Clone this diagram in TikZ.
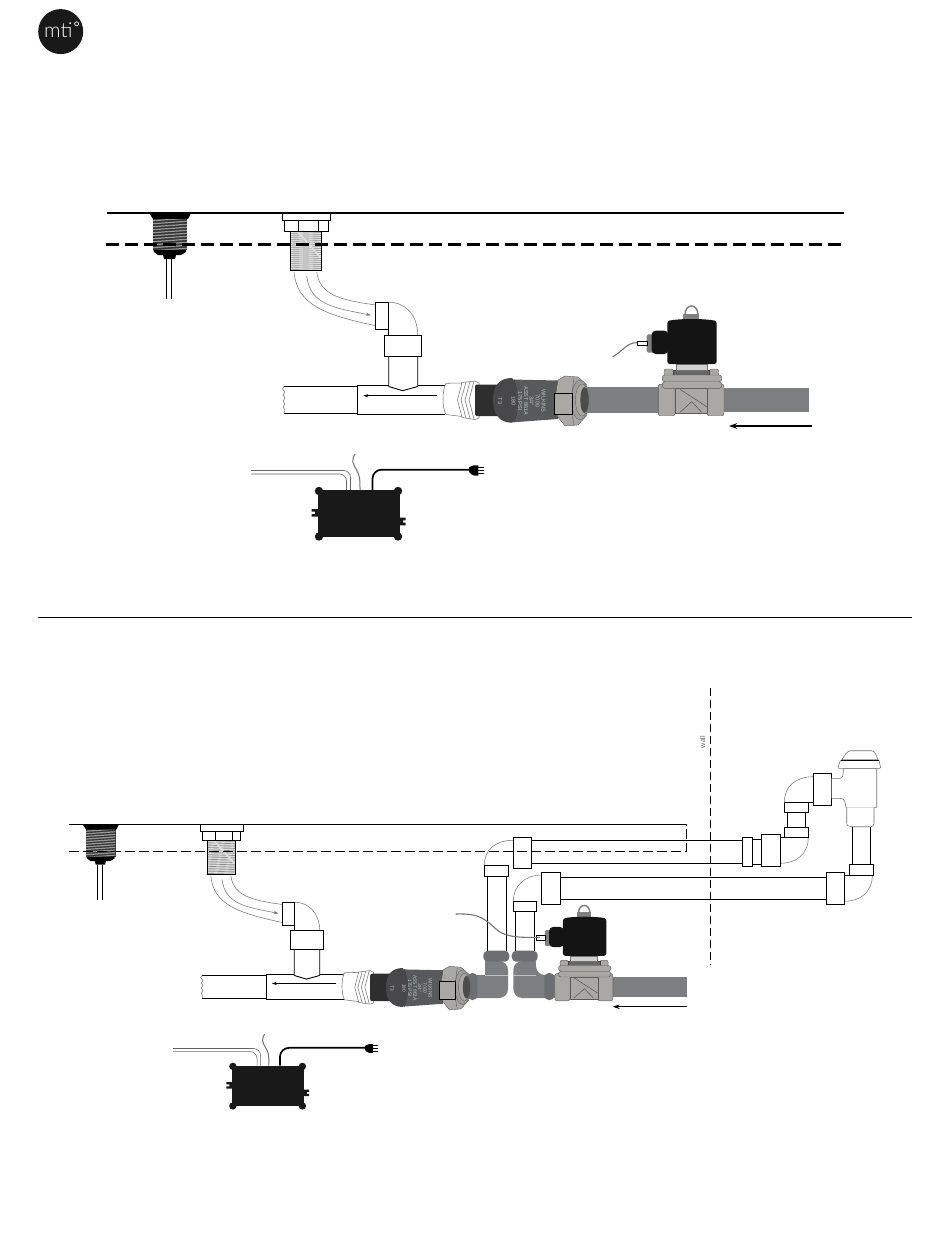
\documentclass[tikz,border=0pt]{standalone}
\usepackage{fontspec}
\setmainfont{Liberation Sans}
\newfontfamily\logofont{Lato Light}
\usetikzlibrary{arrows.meta}
\definecolor{pipegray}{HTML}{7D7E80}
\definecolor{cplgray}{HTML}{6D6E71}
\definecolor{brass}{HTML}{A9A8A4}
\definecolor{thingray}{HTML}{777777}
\definecolor{valvedark}{HTML}{58595B}
\definecolor{capdark}{HTML}{48484A}
\tikzset{
  pipeline/.style={draw=black,line width=.9pt,fill=white},
  plain/.style={draw=black,line width=.9pt},
  thin gray/.style={draw=thingray,line width=.55pt},
  valvetext/.style={font=\fontsize{5.6}{5.6}\selectfont,text=black!25,rotate=-90,transform shape,inner sep=0pt},
  flowhead/.style={-{Stealth[length=5pt,width=3.2pt]}},
}
\newcommand{\LeftFitting}{%
  \fill[black!80] (152.7,218) rectangle (187.3,250);
  \foreach \y in {219.5,222.5,...,250}{
    \draw[black!40,line width=1.2pt] (153,\y+1.2) -- (187,\y-1.2);
  }
  \fill[black] (149,213) -- (191,213) -- (188,219) -- (153,219) -- cycle;
  \fill[black] (154,250) -- (186,250) -- (186,252) -- (181,255) -- (176,255) -- (175,259) -- (164,259) -- (163,255) -- (158,255) -- (154,252) -- cycle;
  \draw[plain] (166.3,259) -- (166.3,299.3) (171.7,259) -- (171.7,299.3);
}
\newcommand{\RightFitting}{%
  \draw[pipeline] (282.3,213) rectangle (330.7,220.7);
  \draw[pipeline] (284.3,220.7) rectangle (328,231.7);
  \draw[plain] (298.7,220.7) -- (298.7,231.7) (318.3,220.7) -- (318.3,231.7);
  \fill[black!10] (290.3,231.7) rectangle (321.7,270.7);
  \foreach \y in {233,235,...,270}{
    \draw[black!45,line width=.65pt] (290.5,\y+.4) -- (321.5,\y-.4);
  }
  \draw[black!12,line width=1.6pt] (298,232) -- (321,258);
  \draw[plain] (290.3,231.7) rectangle (321.7,270.7);
}
\newcommand{\TeePiping}{%
  \draw[thin gray] (294,272) .. controls (297,305) and (325,315) .. (375.7,325.7);
  \draw[thin gray,flowhead] (306.7,276) .. controls (310,305) and (335,308) .. (371,315.2);
  \draw[thin gray] (316.7,272) .. controls (320,295) and (340,300) .. (375.7,305);
  \draw[thin gray] (388.7,302.3) .. controls (405,302) and (417.7,315) .. (417.7,335);
  \draw[plain] (388.7,329.3) -- (388.7,335);
  \draw[pipeline] (375.7,302.3) rectangle (388.7,329.3);
  \draw[plain] (388.7,302.3) -- (388.7,329.3);
  \draw[pipeline] (384.3,335) rectangle (421.7,356.7);
  \draw[plain] (388.7,356.7) -- (388.7,386.5) -- (402.7,390.7) -- (417.7,386.5) -- (417.7,356.7);
  \draw[plain] (388.7,385.3) -- (357.3,385.3) -- (357.3,414) -- (445,414);
  \draw[plain] (417.7,385.3) -- (445,385.3);
  \draw[plain] (357.3,386.3) -- (284,386.3);
  \draw[plain] (357.3,413.3) -- (284,413.3);
  \draw[thin gray] (284,386.3) -- (282.5,389) -- (285,392) -- (283,395) -- (285,398) -- (283,401) -- (285,404) -- (283,407) -- (285,410) -- (284,413.3);
  \draw[black,line width=.6pt,flowhead] (436.7,395.7) -- (363.3,395.7);
}
\newcommand{\BackflowValve}[1]{%
  % threaded adapter
  \draw[thin gray,fill=white] (446,383.3) -- (462,383) -- (462,416.5) -- (446,414.5) .. controls (442,408) and (442,390) .. (446,383.3) -- cycle;
  \draw[thin gray,fill=white] (462,382.5) -- (475,381) -- (479,383) -- (479,418) -- (475,419.5) -- (462,417.5) -- (457.5,400) -- cycle;
  \draw[thin gray] (466,382) -- (461,400) -- (466,418) (470,381.5) -- (465,400) -- (470,418.5) (474,381) -- (469,400) -- (474,419);
  % dark body
  \fill[black!82,rounded corners=2pt] (475,384.5) rectangle (500,416);
  \fill[valvedark] (510,379.5) -- (558,380.5) -- (558,419) -- (510,422.5) -- cycle;
  \fill[capdark] (512,378) .. controls (500,378) and (493,385) .. (493,400) .. controls (493,415) and (500,422.7) .. (512,422.7) .. controls (518,418) and (519,385) .. (512,378) -- cycle;
  \draw[black!75,line width=.5pt] (514,379.5) .. controls (519,393) and (519,409) .. (514,422);
  \node[valvetext] (wilkins#1) at (543.5,401) {WILKINS};
  \node[valvetext] (model#1) at (537.5,401) {7000};
  \node[valvetext] (size#1) at (531.5,401) {3/4"};
  \node[valvetext] (asse#1) at (526,401) {ASST 861A};
  \node[valvetext] (psi#1) at (520,401) {175 PSI};
  \node[valvetext] (temp#1) at (513.5,401) {180};
  \node[valvetext] (tthree#1) at (500,401) {T3};
  % union nut
  \draw[black!65,line width=.4pt,fill=brass] (558,380) -- (565,376) -- (578,377) -- (587,385) -- (587,415) -- (578,425) -- (565,426) -- (558,417) -- (554,404) -- cycle;
  \draw[black!60,line width=.4pt,fill=black!38] (580,400) ellipse (8.5 and 20);
  \draw[black!60,line width=.4pt,fill=brass] (582,400) ellipse (6.5 and 16);
  \fill[black!70] (584.5,400) ellipse (4.2 and 13);
  \draw[black!65,line width=.4pt] (572,393.3) -- (574,378) (572,414.3) -- (574,425);
  \draw[draw=black,line width=1pt,fill=brass] (554,393.3) rectangle (572,414.3);
}
\newcommand{\SolenoidValve}{%
  \draw[black!65,line width=.4pt,fill=brass,rounded corners=2pt] (658.3,384.3) rectangle (675,415.7);
  \draw[black!65,line width=.4pt,fill=brass,rounded corners=2pt] (707,384.3) rectangle (724,415.7);
  \draw[black!65,line width=.4pt,fill=brass] (675,388.3) rectangle (707,413.3);
  \draw[black!70,line width=.45pt] (680,389.3) -- (706.7,406.7) (680,412.3) -- (691.7,401.7) -- (701.7,412.3);
  \draw[black!65,line width=.4pt,fill=brass,rounded corners=2pt] (664,369) rectangle (673.3,376);
  \draw[black!65,line width=.4pt,fill=brass,rounded corners=2pt] (709.3,369) rectangle (718.7,376);
  \draw[black!75,line width=.4pt,fill=black!60] (673.3,370) rectangle (709.3,375.3);
  \draw[black!55,line width=.4pt,fill=black!18] (675.7,364) rectangle (706.7,370);
  \draw[black!65,line width=.4pt,fill=brass,rounded corners=2.5pt] (662.3,381.7) rectangle (721.7,388.3);
  \draw[black!65,line width=.4pt,fill=brass,rounded corners=2.5pt] (662.3,375) rectangle (721.7,381.7);
  % loop
  \draw[black!50,line width=1.5pt,fill=white] (685,319.5) -- (685,315) .. controls (685,303) and (698,303) .. (698,315) -- (698,319.5);
  \fill[black!50] (683.3,313.5) rectangle (699.3,320);
  % coil
  \fill[black!92,rounded corners=2.5pt] (667.3,321) .. controls (680,318.5) and (704,318.5) .. (716.7,321) -- (716.7,364) -- (667.3,364) -- cycle;
  \fill[black!50,rounded corners=1.5pt] (646.7,334.3) rectangle (654,352.7);
  \fill[black!92,rounded corners=4pt] (651.7,330.7) rectangle (668.3,354);
  \draw[line width=.8pt,draw=black,fill=white] (637.3,341) rectangle (647.3,345.7);
}
\newcommand{\PowerBox}{%
  \draw[black!60,line width=.6pt,rounded corners=7pt] (251,470.5) -- (350.5,470.5) -- (350.5,490);
  \draw[black!60,line width=.6pt,rounded corners=7pt] (251,474) -- (346.5,474) -- (346.5,490);
  \draw[black!55,line width=1pt] (355,454) .. controls (351,460) and (353,464) .. (356,469) .. controls (360,475) and (360,480) .. (360,490);
  \draw[black,line width=1.7pt,rounded corners=9pt] (372.5,490) -- (372.5,469.7) -- (470,469.7);
  \fill[black] (469,467.5) .. controls (472,465) and (476,465) .. (478.3,465.5) -- (478.3,475.5) .. controls (476,476) and (472,476) .. (469,472) -- cycle;
  \draw[black,line width=.9pt] (478,467.3) -- (484.3,467.3) (478,470.3) -- (484.3,470.3) (478,473.3) -- (484.3,473.3);
  \fill[black!90] (318.3,490) rectangle (400,537);
  \fill[black!90] (319,491) circle (4.2) (398,491) circle (4.2) (319,536.5) circle (4.2) (398,536.5) circle (4.2);
  \fill[black!90] (311.7,509) rectangle (318.3,511.6) (311.7,514) rectangle (318.3,516.7) (315,509) rectangle (318.3,516.7);
  \fill[black!90] (400,517.7) rectangle (405.7,520.3) (400,522.7) rectangle (405.7,525.3) (400,517.7) rectangle (403,525.3);
}
\begin{document}
\begin{tikzpicture}[x=1pt,y=-1pt]
\useasboundingbox (0,0) rectangle (950,1241);
\fill[white] (0,0) rectangle (950,1241);
% logo
\fill[black!90] (60.7,31.6) circle (22.5);
\node[font=\logofont\fontsize{20.5}{20.5}\selectfont,text=white,anchor=base,inner sep=0pt] (logotext) at (58.3,37.8) {mti};
\draw[white,line width=.7pt] (76.6,23.8) circle (2);
% ---- top assembly
\LeftFitting
\RightFitting
\TeePiping
\fill[pipegray] (585,386.7) rectangle (660,413.3);
\fill[pipegray] (722,388) rectangle (809,411.7);
\BackflowValve{a}
\SolenoidValve
\draw[black!55,line width=1.1pt] (637.3,342.7) .. controls (627,342) and (622,352) .. (612.7,356.7);
\draw[black,line width=1.6pt,-{Stealth[length=8pt,width=5.5pt]}] (812,426) -- (729,426);
\PowerBox
\draw[black,line width=1.6pt] (107,213) -- (844,213);
\draw[black,line width=2.2pt,dash pattern=on 13pt off 6pt] (106,244.6) -- (844,244.6);
% divider
\draw[black,line width=.8pt] (38,617.5) -- (912,617.5);
% ---- bottom assembly: risers and return loop
\draw[plain] (487,876.7) -- (487,951) (506.3,876.7) -- (506.3,951);
\draw[plain] (515.7,911.7) -- (515.7,951) (534.7,911.7) -- (534.7,951);
\draw[thin gray] (484.3,865.3) .. controls (484.3,850) and (495,840.3) .. (513.3,840.3);
\draw[thin gray] (513.3,901) .. controls (513.3,886) and (525,875) .. (541.3,875);
\draw[plain] (531.7,840.3) -- (742.3,840.3) (531.7,863.3) -- (742.3,863.3);
\draw[plain] (560.7,877.3) -- (826.3,877.3) (560.7,899.3) -- (826.3,899.3);
\draw[pipeline] (513.3,837.3) rectangle (531.7,868.3);
\draw[pipeline] (541.3,872.3) rectangle (560.7,904.3);
\draw[pipeline] (484.3,865.3) rectangle (508.3,876.7);
\draw[pipeline] (513.3,901) rectangle (536.7,911.7);
% gray lower piping
\fill[pipegray,rounded corners=9pt] (485,961) -- (485,990) -- (485,975) -- (460,975) -- (460,998) -- (508,998) -- (508,961) -- cycle;
\fill[pipegray] (485,961) rectangle (497,980);
\fill[pipegray] (460,975) rectangle (490,998);
\fill[pipegray,rounded corners=9pt] (513.3,961) -- (513.3,998) -- (560,998) -- (560,975) -- (536,975) -- (536,961) -- cycle;
\fill[pipegray] (525,961) rectangle (536,980);
\fill[pipegray] (530,975) rectangle (560,998);
\draw[black!25,line width=.4pt] (485,975) -- (508,975) (513.3,975) -- (536,975);
\fill[cplgray,rounded corners=4.5pt] (483.3,950.7) rectangle (509.3,961.7);
\fill[cplgray,rounded corners=4.5pt] (511.7,950.7) rectangle (537.7,961.7);
\fill[cplgray,rounded corners=4.5pt] (467.7,973) rectangle (477.3,1000);
\fill[cplgray,rounded corners=4.5pt] (544.3,973) rectangle (554.3,1000);
\fill[pipegray] (610,976.7) rectangle (686.7,997.3);
% fittings, scaled copies
\begin{scope}[shift={(-45.4,639.2)},xscale=.86,yscale=.87]
  \LeftFitting
\end{scope}
\begin{scope}[shift={(-47.86,639.2)},xscale=.88,yscale=.87]
  \RightFitting
  \TeePiping
  \BackflowValve{b}
  \PowerBox
\end{scope}
\begin{scope}[shift={(-24.3,639.2)},xscale=.88,yscale=.87]
  \SolenoidValve
\end{scope}
\draw[black!55,line width=1.1pt] (455.7,914) .. controls (480,913) and (486,920) .. (496,929) .. controls (503,936) and (515,938) .. (540,937.3);
\draw[black,line width=.9pt,-{Stealth[length=7pt,width=4.5pt]}] (686.7,1006.7) -- (612.7,1006.7);
% right-hand loop
\draw[pipeline] (742.3,837.3) rectangle (752.7,866.3);
\draw[plain] (752.7,839.3) -- (761.3,839.3) (752.7,864.3) -- (761.3,864.3);
\draw[plain] (780.7,837.3) -- (784.3,837.3);
\draw[thin gray] (780.7,863.3) .. controls (795,863.3) and (808.3,855) .. (808.3,837.3);
\draw[pipeline] (761.3,834.3) rectangle (780.7,866.3);
\draw[pipeline] (784.3,827.3) rectangle (808.3,837.3);
\draw[plain] (787.3,812.7) -- (787.3,827.3) (805.7,812.7) -- (805.7,827.3);
\draw[pipeline] (784.3,802.3) rectangle (808.3,812.7);
\draw[thin gray] (784.3,802.3) .. controls (784.3,787) and (795,776.7) .. (813.3,776.7);
\draw[plain] (808.3,802.3) -- (813.3,802.3);
\draw[pipeline] (813.3,773.3) rectangle (831.7,805.3);
% air gap / vacuum breaker head
\draw[black!55,line width=.6pt,fill=white] (831.7,778.3) -- (840,778.3) .. controls (843,778.3) and (843.3,775) .. (843.3,768.3) -- (876.7,768.3) -- (876.7,807.3) -- (846,807.3) .. controls (845,802) and (845,798.3) .. (840,798.3) -- (831.7,798.3);
\draw[black!55,line width=.6pt,fill=white] (846.7,807.3) -- (846.7,822) .. controls (846.7,825.5) and (848,826.7) .. (851,826.7) -- (871,826.7) .. controls (873,826.7) and (874,825.5) .. (874,822) -- (874,807.3);
\draw[black!55,line width=.6pt,fill=white] (841.7,760) .. controls (845,755) and (847,751) .. (850.7,750.7) -- (871.7,750.7) .. controls (875,751) and (876,755) .. (878.3,760) -- cycle;
\draw[black!55,line width=.6pt,fill=white,rounded corners=1pt] (840.5,760) -- (837.7,768.3) -- (880.7,768.3) -- (879,760) -- cycle;
\draw[black,line width=1pt] (840.5,760) -- (878.5,760);
\draw[plain] (852.3,826.7) -- (852.3,864.3) (870,826.7) -- (870,864.3);
\draw[thin gray] (844.7,901.3) .. controls (860,901.3) and (872.3,892) .. (872.3,875.7);
\draw[plain] (844.7,875.7) -- (849.3,875.7);
\draw[pipeline] (849.3,864.3) rectangle (873.7,875.7);
\draw[pipeline] (826.3,872.3) rectangle (844.7,904.3);
% reference lines
\draw[black,line width=.8pt] (69,824.5) -- (686.7,824.5);
\draw[black,line width=.8pt,dash pattern=on 10pt off 4pt] (69,851) -- (686.7,851) -- (686.7,824.5);
\draw[black,line width=.8pt,dash pattern=on 8pt off 4pt] (710.5,688) -- (710.5,965);
\node[font=\fontsize{7}{7}\selectfont,text=black!60,rotate=90,inner sep=0pt] (walllabel) at (702.5,742) {wall};
\end{tikzpicture}
\end{document}
